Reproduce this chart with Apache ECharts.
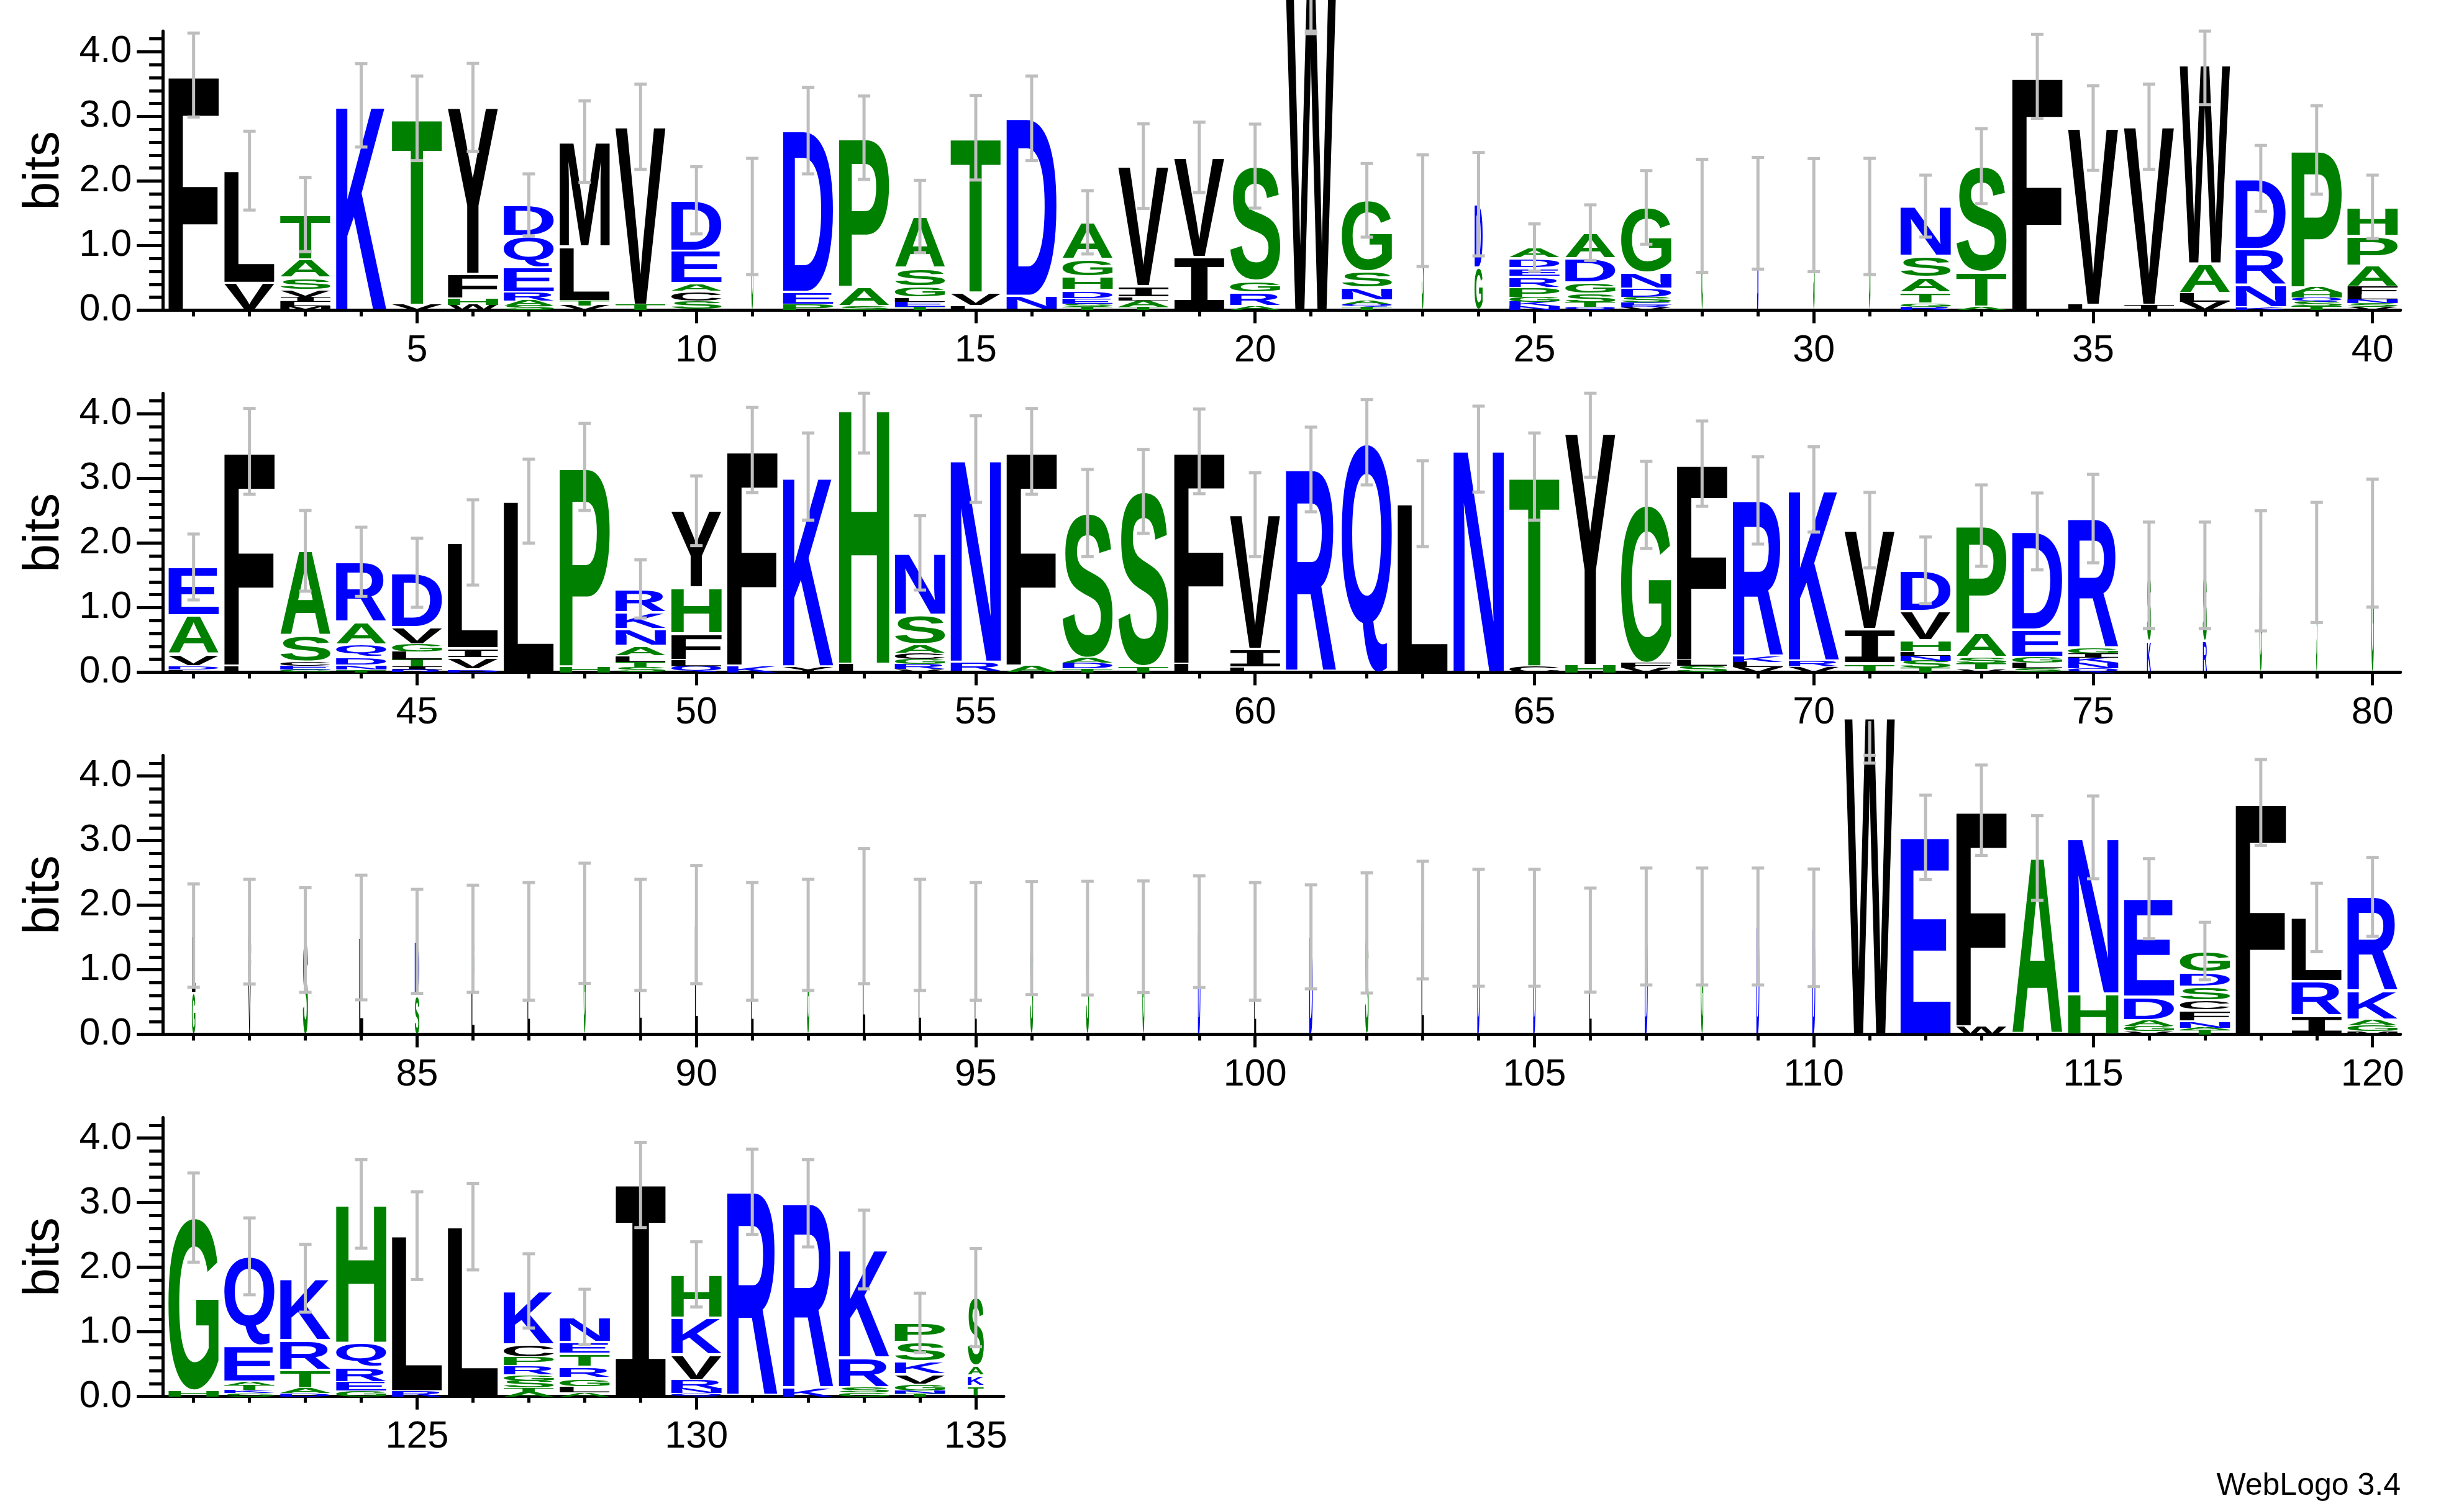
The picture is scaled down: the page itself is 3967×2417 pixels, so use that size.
<!DOCTYPE html>
<html><head><meta charset="utf-8">
<script src="https://cdn.jsdelivr.net/npm/echarts@6/dist/echarts.min.js"></script>
<style>html,body{margin:0;padding:0;background:#fff}#c{width:3967px;height:2417px}</style>
</head><body><div id="c"></div>
<script>
// ---------------- DATA (bottom -> top letters per position, bits) ----------------
const stackLetters = [
"F","VL","MLIVSAT","K","VT","WHFY","SAREQD","VTLM","TV","SCAED",
"G","PED","SAP","TELGSA","LVT","ND","TSEDHGA","TALIV","IV","ARGS",
"W","TQANSG","S","GD","NKGPREDA","QTSGDA","VRESDNG","G","D","S",
"G","RGTASN","ATS","F","LV","IV","VLAW","KNRD","TSQHAP","VSNLFAPH",
"LDVAE","LF","GECSA","TNDQAR","RITLGVD","DVIL","L","HP","STLANKR","QLFHY",
"KF","YK","LH","VRGCASN","RN","AF","TDAS","TS","LF","LIV",
"R","Q","L","N","CT","HY","VFG","SLF","VLKR","VRK",
"TIV","TSNLHVD","VTSAP","SLGED","QNKIGR","KS","RS","G","S","G",
"GL","VG","S","L","SD","LG","L","G","L","L",
"L","G","L","L","L","S","S","G","D","L",
"D","S","L","D","D","L","D","G","D","D",
"W","E","WF","A","HN","VGADE","TANFCSDG","F","IRL","MGAKR",
"HG","SKTAEQ","DATRK","GERQH","RL","L","ATSGRPCK","ALGRTEN","I","QNRVKH",
"R","KR","GSRK","TNGVKSP","TKAS"
];
const stackBits = [
[3.64],[0.42,1.74],[0.06,0.07,0.08,0.10,0.19,0.28,0.70],[3.17],[0.08,2.89],[0.08,0.10,0.38,2.58],[0.07,0.08,0.12,0.39,0.49,0.48],[0.07,0.07,0.84,1.63],[0.08,2.76],[0.15,0.13,0.14,0.50,0.78],
[1.45],[0.08,0.20,2.50],[0.06,0.30,2.31],[0.05,0.08,0.06,0.18,0.28,0.80],[0.06,0.21,2.40],[0.22,2.75],[0.05,0.05,0.07,0.14,0.21,0.27,0.57],[0.05,0.10,0.05,0.17,1.86],[0.82,1.545],[0.06,0.21,0.18,1.78],
[4.98],[0.05,0.04,0.06,0.20,0.25,1.10],[1.54],[0.66,0.98],[0.06,0.07,0.08,0.13,0.17,0.14,0.15,0.17],[0.05,0.07,0.13,0.18,0.37,0.40],[0.04,0.04,0.04,0.09,0.12,0.25,1.01],[1.46],[1.50],[1.47],
[1.45],[0.05,0.05,0.17,0.24,0.33,0.77],[0.05,0.54,1.64],[3.62],[0.08,2.74],[0.08,2.76],[0.13,0.13,0.46,3.08],[0.04,0.35,0.56,1.09],[0.06,0.07,0.07,0.07,0.08,2.13],[0.05,0.06,0.06,0.07,0.12,0.33,0.46,0.45],
[0.04,0.05,0.19,0.60,0.75],[0.10,3.32],[0.04,0.06,0.06,0.40,1.32],[0.04,0.06,0.14,0.19,0.35,0.93],[0.04,0.05,0.11,0.12,0.11,0.27,0.84],[0.04,0.18,0.15,1.64],[2.65],[0.09,3.09],[0.07,0.09,0.08,0.165,0.265,0.26,0.36],[0.09,0.10,0.41,0.71,1.19],
[0.10,3.34],[0.09,2.94],[0.13,3.955],[0.05,0.077,0.074,0.081,0.15,0.456,0.96],[0.16,3.14],[0.10,3.32],[0.06,0.09,0.07,2.245],[0.09,2.71],[0.13,3.29],[0.07,0.29,2.08],
[3.14],[3.56],[2.61],[3.455],[0.09,2.94],[0.11,3.595],[0.07,0.07,2.45],[0.10,0.08,3.05],[0.08,0.08,0.08,2.42],[0.09,0.09,2.65],
[0.14,0.53,1.53],[0.074,0.107,0.074,0.06,0.184,0.45,0.63],[0.05,0.09,0.09,0.37,1.67],[0.06,0.09,0.09,0.42,1.52],[0.06,0.09,0.08,0.06,0.08,2.01],[0.48,1.02],[0.48,1.02],[1.57],[1.70],[2.00],
[0.64,0.89],[1.17,0.42],[1.46],[1.50],[0.60,0.84],[0.86,0.62],[1.44],[1.72],[1.54],[1.70],
[1.44],[1.54],[1.83],[1.54],[1.44],[1.49],[1.49],[1.51],[1.59],[1.44],
[1.51],[1.57],[1.77],[1.65],[1.65],[1.46],[1.67],[1.67],[1.67],[1.65],
[4.91],[3.05],[0.12,3.35],[2.73],[0.63,2.42],[0.05,0.08,0.09,0.36,1.52],[0.07,0.035,0.09,0.17,0.16,0.215,0.22,0.33],[3.59],[0.29,0.53,0.99],[0.05,0.09,0.09,0.44,1.46],
[0.09,2.68],[0.05,0.05,0.07,0.06,0.56,1.38],[0.05,0.07,0.29,0.46,0.96],[0.09,0.13,0.24,0.37,2.15],[0.08,2.41],[2.63],[0.07,0.065,0.11,0.08,0.16,0.12,0.20,0.83],[0.06,0.08,0.14,0.18,0.20,0.18,0.39],[3.275],[0.05,0.07,0.13,0.40,0.57,0.67],
[3.17],[0.12,2.87],[0.06,0.08,0.46,1.675],[0.045,0.045,0.09,0.16,0.20,0.30,0.30],[0.16,0.16,0.15,1.06]
];
const errorBits = [
0.65,0.61,0.575,0.645,0.655,0.68,0.48,0.63,0.66,0.52,
0.9,0.67,0.645,0.56,0.655,0.655,0.49,0.655,0.545,0.65,
0.7,0.57,0.865,0.8,0.365,0.43,0.57,0.875,0.865,0.875,
0.9,0.48,0.58,0.65,0.655,0.66,0.62,0.51,0.685,0.49,
0.51,0.665,0.625,0.535,0.535,0.66,0.65,0.675,0.45,0.54,
0.66,0.675,0.69,0.575,0.67,0.665,0.675,0.65,0.655,0.65,
0.655,0.66,0.665,0.665,0.675,0.685,0.675,0.66,0.675,0.66,
0.585,0.515,0.63,0.595,0.685,0.825,0.825,0.93,0.93,0.99,
0.8,0.81,0.81,0.965,0.805,0.83,0.91,0.93,0.86,0.915,
0.91,0.86,1.045,0.86,0.91,0.875,0.88,0.865,0.865,0.91,
0.805,0.93,0.91,0.905,0.905,0.805,0.905,0.905,0.905,0.91,
0.71,0.655,0.70,0.655,0.64,0.62,0.445,0.665,0.53,0.61,
0.69,0.595,0.525,0.685,0.68,0.67,0.575,0.43,0.66,0.505,
0.66,0.675,0.61,0.46,0.76
];
const stackWidths = [
1,1,1,1,1,1,1,1,1,1,
0.04,1,1,1,1,1,1,1,1,1,
1,1,0.04,0.16,1,1,1,0.03,0.03,0.03,
0.03,1,1,1,1,1,1,1,1,1,
1,1,1,1,1,1,1,1,1,1,
1,1,1,1,1,1,1,1,1,1,
1,1,1,1,1,1,1,1,1,1,
1,1,1,1,1,0.08,0.08,0.05,0.025,0.05,
0.07,0.06,0.10,0.08,0.09,0.06,0.05,0.04,0.05,0.06,
0.05,0.05,0.05,0.05,0.04,0.06,0.06,0.04,0.05,0.04,
0.07,0.07,0.05,0.05,0.05,0.05,0.06,0.05,0.06,0.06,
1,1,1,1,1,1,1,1,1,1,
1,1,1,1,1,1,1,1,1,1,
1,1,1,1,0.32
];
const rowStarts = [1, 41, 81, 121];
const rowEnds = [40, 80, 120, 135];
const xMajorTicks = [[5,10,15,20,25,30,35,40],[45,50,55,60,65,70,75,80],[85,90,95,100,105,110,115,120],[125,130,135]];
const yTickValues = [0, 1, 2, 3, 4];
const yMinorValues = [0.2,0.4,0.6,0.8,1.2,1.4,1.6,1.8,2.2,2.4,2.6,2.8,3.2,3.4,3.6,3.8,4.2];
const AXIS_MAX = 4.32;
const yAxisTitle = 'bits';
const footerText = 'WebLogo 3.4';

// ---------------- helpers ----------------
const BLUE = '#0000ff', GREEN = '#008000', BLACK = '#000000';
function letterColor(ch) {
  if ('RKDENQ'.indexOf(ch) >= 0) return BLUE;
  if ('SGHTAP'.indexOf(ch) >= 0) return GREEN;
  return BLACK;
}
function fontFor(ch) {
  return ch === 'I' ? 'bold 200px "DejaVu Sans Mono"' : 'bold 200px "Liberation Sans"';
}
const mctx = document.createElement('canvas').getContext('2d');
const boxCache = {};
function glyphBox(ch) {
  if (boxCache[ch]) return boxCache[ch];
  mctx.font = fontFor(ch);
  mctx.textAlign = 'center';
  mctx.textBaseline = 'middle';
  const m = mctx.measureText(ch);
  boxCache[ch] = { L: m.actualBoundingBoxLeft, R: m.actualBoundingBoxRight, A: m.actualBoundingBoxAscent, D: m.actualBoundingBoxDescent };
  return boxCache[ch];
}

const rows = [0, 1, 2, 3].map(k => {
  const glyphData = [], glyphChars = [], errData = [];
  for (let p = rowStarts[k]; p <= rowEnds[k]; p++) {
    const i = p - 1, chars = stackLetters[i], bits = stackBits[i];
    let y = 0;
    for (let j = 0; j < chars.length; j++) {
      glyphData.push([p, y, y + bits[j], stackWidths[i]]);
      glyphChars.push(chars[j]);
      y += bits[j];
    }
    const e = errorBits[i];
    errData.push([p, y - e, Math.min(y + e, AXIS_MAX), y]);
  }
  return { glyphData, glyphChars, errData };
});

// ---------------- layout ----------------
const GRID_LEFT = 262.2, UNIT = 89.95, GRID_H = 449.3, ROW_STEP = 583.1, GRID_TOP0 = 50.1;
const grids = [], xAxes = [], yAxes = [], series = [];
const FONT_FAMILY = 'Liberation Sans';
for (let k = 0; k < 4; k++) {
  const xmin = rowStarts[k] - 0.55, xmax = rowEnds[k] + 0.5;
  grids.push({ left: GRID_LEFT, top: GRID_TOP0 + ROW_STEP * k, width: (xmax - xmin) * UNIT, height: GRID_H, containLabel: false, outerBoundsMode: 'none' });
  const ints = [];
  for (let p = rowStarts[k]; p <= rowEnds[k]; p++) ints.push(p);
  xAxes.push({
    type: 'value', gridIndex: k, min: xmin, max: xmax, position: 'bottom',
    axisLine: { show: true, onZero: false, lineStyle: { color: '#000', width: 5 } },
    axisTick: { show: true, customValues: xMajorTicks[k], length: 21, lineStyle: { color: '#000', width: 5 } },
    axisLabel: { show: true, customValues: xMajorTicks[k], fontSize: 61, fontFamily: FONT_FAMILY, color: '#000', margin: 35 },
    splitLine: { show: false }
  });
  xAxes.push({
    type: 'value', gridIndex: k, min: xmin, max: xmax, position: 'bottom', offset: 0,
    axisLine: { show: false, onZero: false },
    axisTick: { show: true, customValues: ints, length: 10, lineStyle: { color: '#000', width: 5 } },
    axisLabel: { show: false },
    splitLine: { show: false }
  });
  yAxes.push({
    type: 'value', gridIndex: k, min: 0, max: AXIS_MAX, position: 'left',
    name: yAxisTitle, nameLocation: 'middle', nameRotate: 90, nameGap: 150, nameMoveOverlap: false,
    nameTextStyle: { fontSize: 82, fontFamily: FONT_FAMILY, color: '#000' },
    axisLine: { show: true, onZero: false, lineStyle: { color: '#000', width: 5 } },
    axisTick: { show: true, customValues: yTickValues, length: 42, lineStyle: { color: '#000', width: 5 } },
    axisLabel: { show: true, customValues: yTickValues, formatter: v => Number(v).toFixed(1), fontSize: 61, fontFamily: FONT_FAMILY, color: '#000', margin: 50 },
    splitLine: { show: false }
  });
  yAxes.push({
    type: 'value', gridIndex: k, min: 0, max: AXIS_MAX, position: 'left', offset: 0,
    axisLine: { show: false, onZero: false },
    axisTick: { show: true, customValues: yMinorValues, length: 22, lineStyle: { color: '#000', width: 5 } },
    axisLabel: { show: false },
    splitLine: { show: false }
  });
  const row = rows[k];
  series.push({
    type: 'custom', xAxisIndex: 2 * k, yAxisIndex: 2 * k, clip: false, silent: true, z: 2,
    encode: { x: 0, y: [1, 2] },
    data: row.glyphData,
    renderItem: (params, api) => {
      const ch = row.glyphChars[params.dataIndex];
      const pos = api.value(0), y0 = api.value(1), y1 = api.value(2), w = api.value(3);
      const pb = api.coord([pos, y0]), pt = api.coord([pos, y1]);
      const unit = api.size([1, 0])[0];
      const W = unit * 0.9 * w;
      let top = pt[1], H = pb[1] - pt[1];
      if (H < 0.4 || W < 0.3) return null;
      const inset = H > 14 ? 2 : 0;
      top += inset; H -= 2 * inset;
      const m = glyphBox(ch);
      const sx = W / (m.L + m.R), sy = H / (m.A + m.D);
      return {
        type: 'text', x: pb[0] - W / 2 + sx * m.L, y: top + sy * m.A, scaleX: sx, scaleY: sy,
        style: { text: ch, x: 0, y: 0, font: fontFor(ch), fill: letterColor(ch), align: 'center', verticalAlign: 'middle' }
      };
    }
  });
  series.push({
    type: 'custom', xAxisIndex: 2 * k, yAxisIndex: 2 * k, clip: false, silent: true, z: 3,
    encode: { x: 0, y: [1, 2] },
    data: row.errData,
    renderItem: (params, api) => {
      const pos = api.value(0), lo = api.value(1), hi = api.value(2), topv = api.value(3);
      const pLo = api.coord([pos, lo]), pHi = api.coord([pos, hi]);
      const lineTopV = Math.max(hi, topv - 0.06);
      const pLt = api.coord([pos, lineTopV]);
      const cx = pLo[0];
      const st = { stroke: '#bebebe', lineWidth: 5 };
      return {
        type: 'group', children: [
          { type: 'line', shape: { x1: cx, y1: pLo[1], x2: cx, y2: pLt[1] }, style: st },
          { type: 'line', shape: { x1: cx - 10, y1: pLo[1], x2: cx + 10, y2: pLo[1] }, style: st },
          { type: 'line', shape: { x1: cx - 10, y1: pHi[1], x2: cx + 10, y2: pHi[1] }, style: st }
        ]
      };
    }
  });
}

const chart = echarts.init(document.getElementById('c'), null, { renderer: 'canvas', width: 3967, height: 2417 });
chart.setOption({
  backgroundColor: '#ffffff',
  animation: false,
  grid: grids,
  xAxis: xAxes,
  yAxis: yAxes,
  series: series,
  graphic: [{
    type: 'text', x: 3865, y: 2393,
    style: { text: footerText, font: '50px "Liberation Sans"', fill: '#000', align: 'right', textAlign: 'right', verticalAlign: 'middle', textVerticalAlign: 'middle' }
  }]
});
</script>
</body></html>
